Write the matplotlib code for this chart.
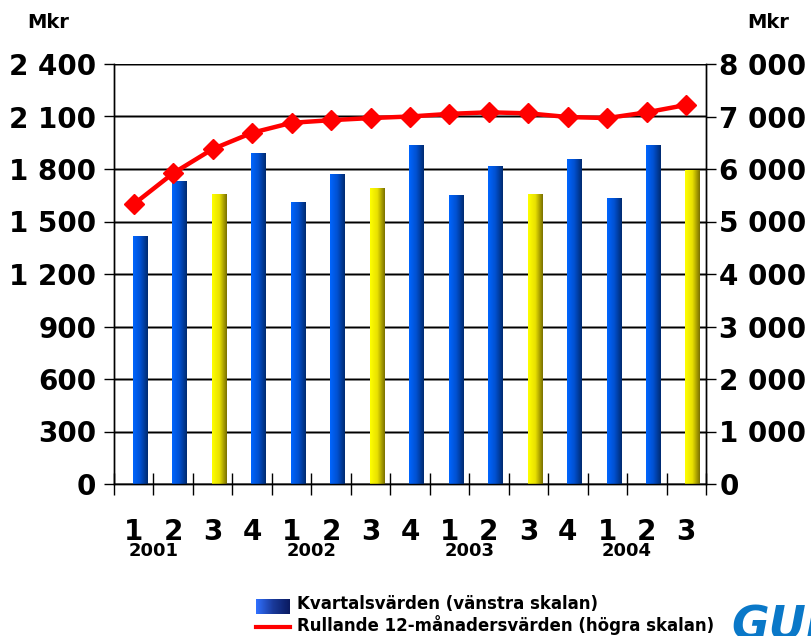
import numpy as np
import matplotlib
matplotlib.use("Agg")
import matplotlib.pyplot as plt
from matplotlib.colors import LinearSegmentedColormap
from matplotlib.lines import Line2D

# data
quarters = ['1', '2', '3', '4', '1', '2', '3', '4', '1', '2', '3', '4', '1', '2', '3']
years = ['2001', '2002', '2003', '2004']
quarterly = [1415, 1730, 1655, 1890, 1610, 1770, 1690, 1935, 1650, 1815, 1655, 1860, 1635, 1935, 1795]
rolling = [5330, 5920, 6380, 6690, 6880, 6930, 6970, 7000, 7050, 7080, 7060, 6990, 6970, 7080, 7220]
left_ticks = [0, 300, 600, 900, 1200, 1500, 1800, 2100, 2400]
right_ticks = [0, 1000, 2000, 3000, 4000, 5000, 6000, 7000, 8000]

def fmt(v):
    return f"{v:,}".replace(",", " ")

blue_cm = LinearSegmentedColormap.from_list("b", ["#0066ff", "#0050d0", "#002a70"])
yellow_cm = LinearSegmentedColormap.from_list("y", ["#ffff00", "#e8e000", "#7a7000"])

fig = plt.figure(figsize=(8.11, 6.36), dpi=100)
ax = fig.add_axes([114/811, 1-484/636, (706-114)/811, 420/636])
ax2 = ax.twinx()

n = len(quarterly)
xs = np.arange(n) + 0.5
ax.set_xlim(0, n)
ax.set_ylim(0, 2400)
ax2.set_ylim(0, 8000)

# bars with horizontal gradient
grad = np.linspace(0, 1, 64).reshape(1, -1)
bars = ax.bar(xs + 0.17, quarterly, width=0.38, facecolor='none', edgecolor='none', zorder=3)
for i, b in enumerate(bars):
    cm = yellow_cm if quarters[i] == '3' else blue_cm
    x0 = b.get_x()
    im = ax.imshow(grad, cmap=cm, aspect='auto', extent=[x0, x0 + b.get_width(), 0, b.get_height()], zorder=3)
    im.set_clip_path(b)
ax.set_xlim(0, n)
ax.set_ylim(0, 2400)

# grid
for t in left_ticks:
    ax.axhline(t, color='#999999', lw=2.0, zorder=1)
    ax.axhline(t, color='black', lw=1.0, zorder=2)

ax.set_yticks(left_ticks)
ax.set_yticklabels([fmt(t) for t in left_ticks], fontsize=20, fontweight='bold')
ax2.set_yticks(right_ticks)
ax2.set_yticklabels([fmt(t) for t in right_ticks], fontsize=20, fontweight='bold')
ax.tick_params(axis='y', length=7.2, width=1.0, pad=5.5)
ax2.tick_params(axis='y', length=7.2, width=1.0, pad=2.5)

ax.set_xticks(np.arange(n + 1))
ax.set_xticklabels([])
ax.tick_params(axis='x', direction='inout', length=16, width=1.0)

for a in (ax, ax2):
    a.spines['top'].set_visible(False)
    for s in ['left', 'right', 'bottom']:
        a.spines[s].set_linewidth(1.0)

# rolling 12-month line
ax2.plot(xs, rolling, color='#ff0000', lw=3.2, marker='D', markersize=10.5, zorder=5)
ax2.set_zorder(ax.get_zorder() + 1)
ax2.patch.set_visible(False)

# quarter and year labels
for x, q in zip(xs, quarters):
    ax.text(x, -0.115, q, transform=ax.get_xaxis_transform(), ha='center', va='center',
            fontsize=20, fontweight='bold')
for k, y in enumerate(years):
    ax.text(1 + 4 * k, -0.160, y, transform=ax.get_xaxis_transform(), ha='center', va='center',
            fontsize=13, fontweight='bold')

fig.text(48/811, 1-22/636, 'Mkr', ha='center', va='center', fontsize=14, fontweight='bold')
fig.text(768/811, 1-22/636, 'Mkr', ha='center', va='center', fontsize=14, fontweight='bold')

# legend
lax = fig.add_axes([256/811, 1-614/636, 34/811, 15/636])
lax.imshow(grad, cmap=LinearSegmentedColormap.from_list("l", ["#3070ff", "#1a3a9a", "#0a1a60"]),
           aspect='auto', extent=[0, 1, 0, 1])
lax.axis('off')
fig.add_artist(Line2D([256/811, 290/811], [1-627/636, 1-627/636], color='#ff0000', lw=3))
fig.text(297/811, 1-604/636, 'Kvartalsvärden (vänstra skalan)', ha='left', va='center',
         fontsize=12, fontweight='bold')
fig.text(297/811, 1-625/636, 'Rullande 12-månadersvärden (högra skalan)', ha='left', va='center',
         fontsize=12, fontweight='bold')

# logo, cut off by the edge
fig.text(731/811, 1-627/636, 'GUNNEBO', ha='left', va='center', fontsize=33, fontweight='bold',
         fontstyle='italic', color='#0a78c8')

fig.savefig('out.png', dpi=100)
